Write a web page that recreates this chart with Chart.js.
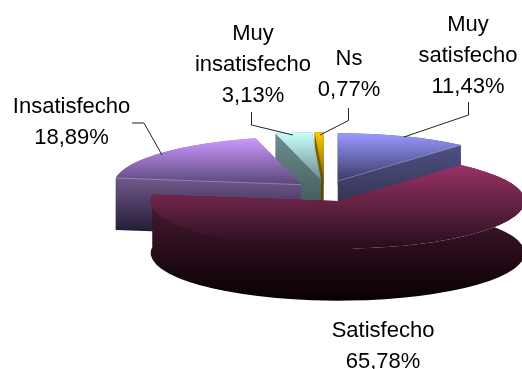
<!DOCTYPE html>
<html>
<head>
<meta charset="utf-8">
<title>Satisfacción</title>
<script src="https://cdn.jsdelivr.net/npm/chart.js@4/dist/chart.umd.min.js"></script>
<style>
  html, body { margin: 0; padding: 0; background: #fff; }
  canvas { display: block; }
</style>
</head>
<body>
<canvas id="pie3d" width="522" height="369"></canvas>
<script>
// data
const categories = ['Muy satisfecho', 'Satisfecho', 'Insatisfecho', 'Muy insatisfecho', 'Ns'];
const percents = [11.43, 65.78, 18.89, 3.13, 0.77];
const percentLabels = ['11,43%', '65,78%', '18,89%', '3,13%', '0,77%'];

// look of the slices: [top start, top end, side start, side end]
const sliceColors = [
  ['#9999ff', '#3a3a68', '#55558c', '#26263f'],
  ['#993366', '#260d1b', '#5e2342', '#080003'],
  ['#cc99ff', '#5a4678', '#ac86d2', '#1c162a'],
  ['#ccffff', '#6b8a8a', '#6f8f8f', '#33484a'],
  ['#ffcc00', '#7a6000', '#8a6c00', '#3f3000']
];
// how far each slice is pulled away from the pie center, in pixels
const sliceShift = [[14.7, -10], [14.7, 10], [-22, -6.4], [-2, -11], [0.7, -11]];
const drawOrder = [4, 3, 0, 2, 1];
// thin light edge between top and side: 'start', 'end' or nothing
const edgeHighlight = ['end', null, 'start', null, null];
const squash = 0.255;
const depth = 52;

// data label text blocks: lines, center x, first baseline
const labelBlocks = [
  { index: 0, lines: ['Muy', 'satisfecho'], x: 468, y: 31 },
  { index: 1, lines: ['Satisfecho'], x: 383, y: 337 },
  { index: 2, lines: ['Insatisfecho'], x: 71.5, y: 113 },
  { index: 3, lines: ['Muy', 'insatisfecho'], x: 253, y: 40 },
  { index: 4, lines: ['Ns'], x: 349, y: 65 }
];
const leaderLines = [
  [[468.5, 102], [468.5, 115], [404, 137]],
  [[132, 123], [144, 123], [162, 155]],
  [[251.5, 112], [251.5, 125], [293, 135]],
  [[348.5, 108], [348.5, 120.5], [320, 135]]
];

function vGradient(ctx, y0, y1, c0, c1) {
  const g = ctx.createLinearGradient(0, y0, 0, y1);
  g.addColorStop(0, c0);
  g.addColorStop(1, c1);
  return g;
}

const pie3d = {
  id: 'pie3d',
  beforeDatasetsDraw(chart) {
    const ctx = chart.ctx;
    const arcs = chart.getDatasetMeta(0).data;
    drawOrder.forEach(i => {
      const arc = arcs[i];
      const colors = sliceColors[i];
      const cx = arc.x + sliceShift[i][0];
      const cy = arc.y + sliceShift[i][1];
      const r = arc.outerRadius;
      const a0 = arc.startAngle;
      const a1 = arc.endAngle;
      const px = a => cx + r * Math.cos(a);
      const py = a => cy + r * squash * Math.sin(a);

      // vertical extent of the top face
      let minY = cy;
      let maxY = cy;
      for (let t = 0; t <= 60; t++) {
        const y = py(a0 + (a1 - a0) * t / 60);
        minY = Math.min(minY, y);
        maxY = Math.max(maxY, y);
      }

      // side: two cut faces and the outer wall
      ctx.fillStyle = vGradient(ctx, minY, maxY + depth, colors[2], colors[3]);
      [a0, a1].forEach(a => {
        ctx.beginPath();
        ctx.moveTo(cx, cy);
        ctx.lineTo(px(a), py(a));
        ctx.lineTo(px(a), py(a) + depth);
        ctx.lineTo(cx, cy + depth);
        ctx.closePath();
        ctx.fill();
      });
      ctx.beginPath();
      ctx.ellipse(cx, cy, r, r * squash, 0, a0, a1);
      ctx.ellipse(cx, cy + depth, r, r * squash, 0, a1, a0, true);
      ctx.closePath();
      ctx.fill();

      // top face
      ctx.fillStyle = vGradient(ctx, minY, maxY, colors[0], colors[1]);
      ctx.beginPath();
      ctx.moveTo(cx, cy);
      ctx.ellipse(cx, cy, r, r * squash, 0, a0, a1);
      ctx.closePath();
      ctx.fill();

      if (edgeHighlight[i]) {
        const a = edgeHighlight[i] === 'start' ? a0 : a1;
        ctx.strokeStyle = 'rgba(215,215,255,0.35)';
        ctx.lineWidth = 1;
        ctx.beginPath();
        ctx.moveTo(cx, cy);
        ctx.lineTo(px(a), py(a));
        ctx.stroke();
      }
    });
    return false;
  },
  afterDraw(chart) {
    const ctx = chart.ctx;
    ctx.save();
    ctx.strokeStyle = '#222';
    ctx.lineWidth = 1;
    leaderLines.forEach(line => {
      ctx.beginPath();
      line.forEach((p, i) => (i ? ctx.lineTo(p[0], p[1]) : ctx.moveTo(p[0], p[1])));
      ctx.stroke();
    });
    ctx.fillStyle = '#000';
    ctx.font = '22px "Liberation Sans", Arial, sans-serif';
    ctx.textAlign = 'center';
    labelBlocks.forEach(b => {
      const lines = b.lines.concat(percentLabels[b.index]);
      lines.forEach((t, i) => ctx.fillText(t, b.x, b.y + i * 31));
    });
    ctx.restore();
  }
};

new Chart(document.getElementById('pie3d').getContext('2d'), {
  type: 'pie',
  data: {
    labels: categories,
    datasets: [{
      data: percents,
      backgroundColor: sliceColors.map(c => c[0]),
      borderWidth: 0,
      radius: 187
    }]
  },
  options: {
    responsive: false,
    animation: false,
    // puts the pie center at about x=323, y=191
    layout: { padding: { left: 124, top: 13 } },
    plugins: { legend: { display: false }, tooltip: { enabled: false } }
  },
  plugins: [pie3d]
});
</script>
</body>
</html>
